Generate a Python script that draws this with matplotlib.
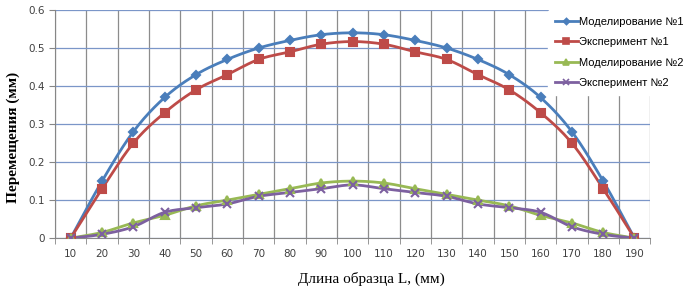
import numpy as np
import matplotlib
matplotlib.use("Agg")
import matplotlib.pyplot as plt
from matplotlib.ticker import FixedLocator, NullFormatter

# ==========================================================
# Data
# ==========================================================
lengths = [10, 20, 30, 40, 50, 60, 70, 80, 90, 100,
           110, 120, 130, 140, 150, 160, 170, 180, 190]

model_1 = [0, 0.15, 0.28, 0.37, 0.43, 0.47, 0.50, 0.52, 0.535, 0.54,
           0.535, 0.52, 0.50, 0.47, 0.43, 0.37, 0.28, 0.15, 0]
exp_1 = [0, 0.13, 0.25, 0.33, 0.39, 0.43, 0.47, 0.49, 0.51, 0.517,
         0.51, 0.49, 0.47, 0.43, 0.39, 0.33, 0.25, 0.13, 0]
model_2 = [0, 0.015, 0.04, 0.06, 0.085, 0.10, 0.115, 0.13, 0.145, 0.15,
           0.145, 0.13, 0.115, 0.10, 0.085, 0.06, 0.04, 0.015, 0]
exp_2 = [0, 0.01, 0.03, 0.068, 0.08, 0.09, 0.11, 0.12, 0.13, 0.14,
         0.13, 0.12, 0.11, 0.09, 0.08, 0.068, 0.03, 0.01, 0]

labels = ["Моделирование №1", "Эксперимент №1",
          "Моделирование №2", "Эксперимент №2"]
colors = ["#4A7EBB", "#BE4B48", "#98B954", "#7D60A0"]
markers = ["D", "s", "^", "x"]
msizes = [4.5, 6, 6, 6]


# ==========================================================
# Smooth line through points (Catmull-Rom, like Excel)
# ==========================================================
def smooth(x, y, n=12):
    x = np.asarray(x, float)
    y = np.asarray(y, float)
    px = np.concatenate([[2 * x[0] - x[1]], x, [2 * x[-1] - x[-2]]])
    py = np.concatenate([[2 * y[0] - y[1]], y, [2 * y[-1] - y[-2]]])
    xs, ys = [], []
    t = np.linspace(0, 1, n, endpoint=False)
    for i in range(1, len(px) - 2):
        for p, out in ((px, xs), (py, ys)):
            p0, p1, p2, p3 = p[i - 1], p[i], p[i + 1], p[i + 2]
            out.extend(0.5 * (2 * p1 + (-p0 + p2) * t
                              + (2 * p0 - 5 * p1 + 4 * p2 - p3) * t ** 2
                              + (-p0 + 3 * p1 - 3 * p2 + p3) * t ** 3))
    xs.append(x[-1])
    ys.append(y[-1])
    return np.array(xs), np.array(ys)


fig = plt.figure(figsize=(6.88, 2.94), dpi=100)
ax = fig.add_axes([0.080, 0.190, 0.865, 0.776])

pos = np.arange(len(lengths))
series = [model_1, exp_1, model_2, exp_2]
handles = []
for vals, lab, col, mk, ms in zip(series, labels, colors, markers, msizes):
    sx, sy = smooth(pos, vals)
    ax.plot(sx, sy, color=col, lw=2, zorder=3)
    ax.plot(pos, vals, ls="none", marker=mk, ms=ms, color=col,
            mew=1.5, zorder=4)
    h, = ax.plot([], [], color=col, lw=2, marker=mk, ms=ms * 0.7, mew=1.2)
    handles.append(h)

ax.set_xlim(-0.5, len(lengths) - 0.5)
ax.set_ylim(0, 0.6)

ax.set_xticks(pos)
ax.set_xticklabels([str(v) for v in lengths])
ax.xaxis.set_minor_locator(FixedLocator(np.arange(-0.5, len(lengths), 1)))
ax.xaxis.set_minor_formatter(NullFormatter())
ax.tick_params(axis="x", which="major", length=0, labelsize=7.5,
               colors="#404040", pad=8)
ax.tick_params(axis="x", which="minor", length=4, color="#868686")

yt = [0, 0.1, 0.2, 0.3, 0.4, 0.5, 0.6]
ax.set_yticks(yt)
ax.set_yticklabels(["0", "0.1", "0.2", "0.3", "0.4", "0.5", "0.6"])
ax.tick_params(axis="y", length=4, labelsize=7.5, colors="#404040",
               color="#868686")

ax.grid(True, axis="x", which="minor", color="#8c8c8c", lw=0.9, zorder=1)
ax.grid(True, axis="y", which="major", color="#7b96c8", lw=0.9, zorder=1)

for s in ["top", "right"]:
    ax.spines[s].set_visible(False)
for s in ["left", "bottom"]:
    ax.spines[s].set_color("#868686")

fig.text(371 / 688, 1 - 279 / 294, "Длина образца L, (мм)",
         family="Liberation Serif", fontsize=11, ha="center", va="center")
fig.text(13 / 688, 1 - 137 / 294, "Перемещения (мм)",
         family="Liberation Serif", fontsize=11, fontweight="bold",
         rotation=90, ha="center", va="center")

leg = fig.legend(handles, labels, loc="upper left",
                 bbox_to_anchor=(548 / 688, 1 - 10 / 294), frameon=True,
                 prop={"family": "Liberation Sans", "size": 8},
                 handlelength=2.1, handletextpad=0.1, labelspacing=0.95,
                 borderaxespad=0, borderpad=0.6)
leg.get_frame().set_facecolor("white")
leg.get_frame().set_edgecolor("white")
leg.get_frame().set_alpha(1)
leg.set_zorder(10)

plt.savefig("out.png", dpi=100)
plt.close()
